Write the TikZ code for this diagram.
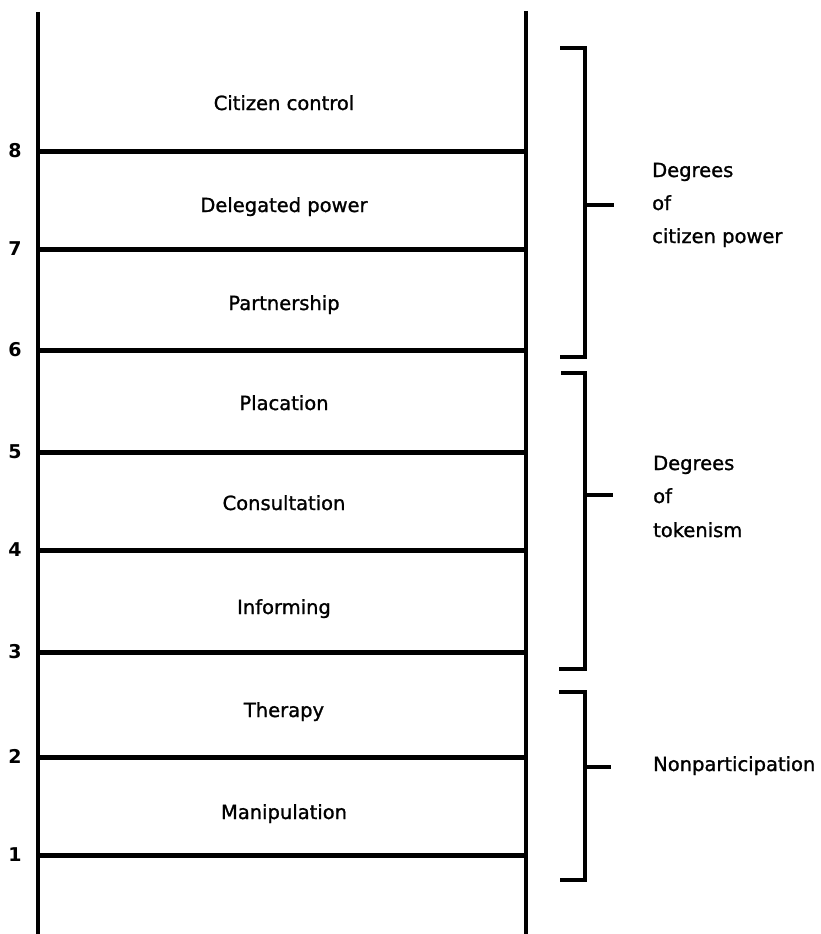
\documentclass[tikz,border=0pt]{standalone}
\usepackage{fontspec}
\setmainfont{DejaVu Sans}
\newfontfamily\semib[FakeBold=1.2]{DejaVu Sans}
\begin{document}
\begin{tikzpicture}[x=1pt,y=-1pt,
  rail/.style={line width=4.6pt},
  rung/.style={line width=5pt},
  brk/.style={line width=4.6pt},
  lbl/.style={font=\semib\fontsize{19.5}{23}\selectfont, inner sep=0pt, anchor=base},
  num/.style={font=\bfseries\fontsize{19}{23}\selectfont, inner sep=0pt, anchor=base},
  side/.style={font=\semib\fontsize{19.5}{23}\selectfont, inner sep=0pt, anchor=base west}]
\useasboundingbox (0,0) rectangle (821,934);
\fill[white] (0,0) rectangle (821,934);
% rails
\coordinate (LT) at (38,12);
\coordinate (LB) at (38,934);
\coordinate (RT) at (526,11);
\coordinate (RB) at (526,934);
\draw[rail] (LT) -- (LB);
\draw[rail] (RT) -- (RB);
% rungs
\foreach \n/\y in {8/151,7/249,6/350,5/452,4/550,3/652,2/757,1/855}{
  \coordinate (rl\n) at (38,\y);
  \coordinate (rr\n) at (526,\y);
  \draw[rung] (rl\n) -- (rr\n);
  \node[num] (n\n) at (15,\y+6) {\n};
}
% rung labels
\node[lbl] (l8) at (284,110) {Citizen control};
\node[lbl] (l7) at (284,212) {Delegated power};
\node[lbl] (l6) at (284,310) {Partnership};
\node[lbl] (l5) at (284,410) {Placation};
\node[lbl] (l4) at (284,510) {Consultation};
\node[lbl] (l3) at (284,614) {Informing};
\node[lbl] (l2) at (284,717) {Therapy};
\node[lbl] (l1) at (284,819) {Manipulation};
% brackets
\coordinate (b1a) at (560,48);  \coordinate (b1b) at (585,48);
\coordinate (b1c) at (585,357); \coordinate (b1d) at (560,357);
\coordinate (b1m) at (585,205); \coordinate (b1t) at (614,205);
\draw[brk] (b1a) -- (b1b) -- (b1c) -- (b1d);
\draw[brk] (b1m) -- (b1t);
\coordinate (b2a) at (561,373); \coordinate (b2b) at (585,373);
\coordinate (b2c) at (585,669); \coordinate (b2d) at (559,669);
\coordinate (b2m) at (585,495); \coordinate (b2t) at (613,495);
\draw[brk] (b2a) -- (b2b) -- (b2c) -- (b2d);
\draw[brk] (b2m) -- (b2t);
\coordinate (b3a) at (559,692); \coordinate (b3b) at (585,692);
\coordinate (b3c) at (585,880); \coordinate (b3d) at (560,880);
\coordinate (b3m) at (585,767); \coordinate (b3t) at (611,767);
\draw[brk] (b3a) -- (b3b) -- (b3c) -- (b3d);
\draw[brk] (b3m) -- (b3t);
% side labels
\node[side] (s1a) at (652,177) {Degrees};
\node[side] (s1b) at (652,210) {of};
\node[side] (s1c) at (652,243) {citizen power};
\node[side] (s2a) at (653,470) {Degrees};
\node[side] (s2b) at (653,503) {of};
\node[side] (s2c) at (653,537) {tokenism};
\node[side] (s3a) at (653,771) {Nonparticipation};
\end{tikzpicture}
\end{document}
